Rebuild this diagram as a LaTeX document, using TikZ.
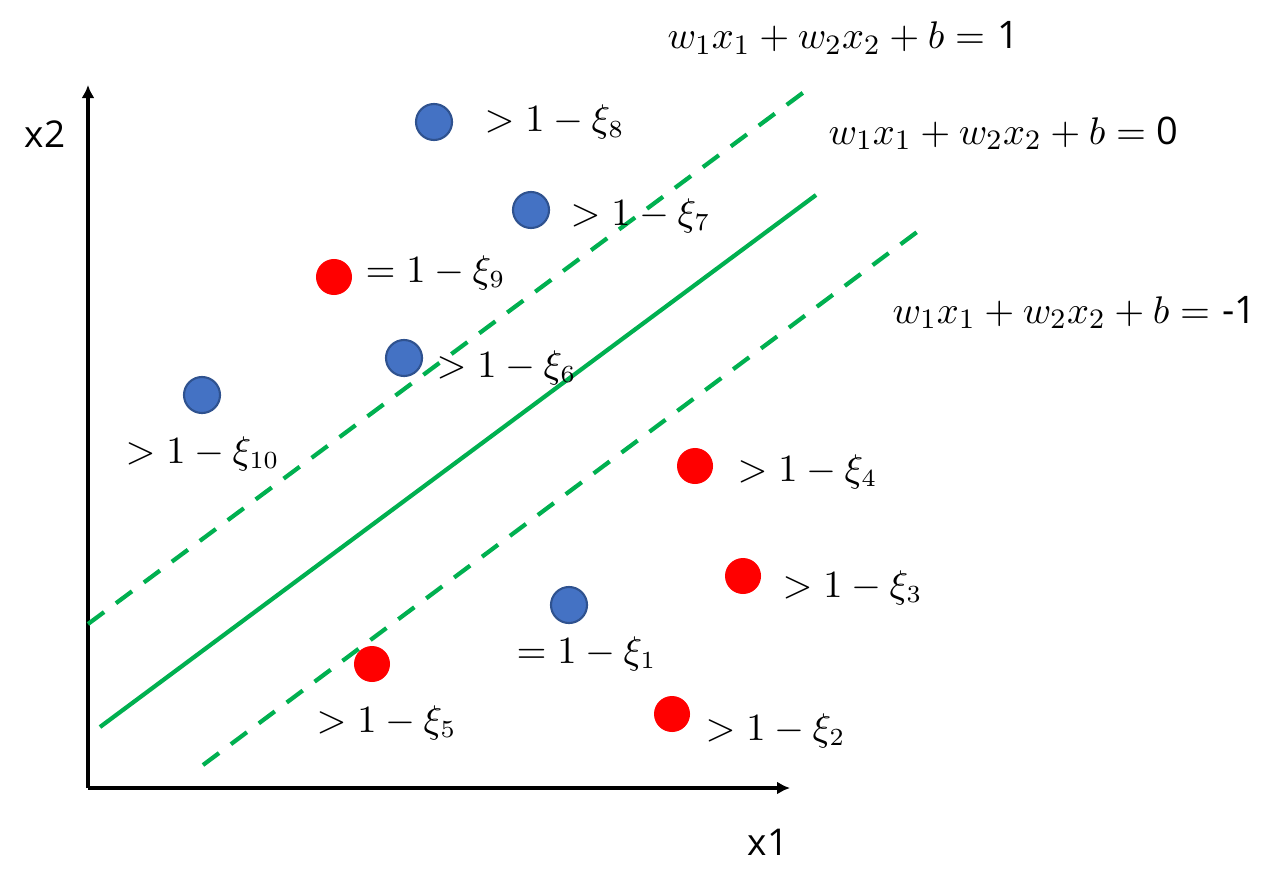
\documentclass[tikz,border=0pt]{standalone}
\usepackage{fontspec}
\setsansfont{Open Sans}
\usetikzlibrary{arrows.meta}
\definecolor{svmgreen}{HTML}{00B050}
\definecolor{dotblue}{HTML}{4472C4}
\definecolor{dotedge}{HTML}{2F528F}

\begin{document}
\begin{tikzpicture}
  [x=0.01cm,y=-0.01cm,
  bluedot/.style={circle,draw=dotedge,fill=dotblue,line width=0.6pt,
inner sep=0pt,minimum size=3.6mm},
  reddot/.style={circle,fill=red,inner sep=0pt,minimum size=3.6mm},
  slack/.style={inner sep=0pt,anchor=base west,font=\fontsize{10.5}{12}\selectfont},
  plane/.style={inner sep=0pt,anchor=base west,font=\fontsize{10.8}{13}\selectfont},
  axlabel/.style={inner sep=0pt,anchor=base west,font=\sffamily\fontsize{10.5}{12}\selectfont},
  axis/.style={line width=0.9pt,-{Latex[length=0.13cm,width=0.13cm]}},
  boundary/.style={svmgreen,line width=1.2pt},
  margin/.style={svmgreen,line width=1.2pt,dash pattern=on 0.2cm off 0.148cm}]
  \useasboundingbox (0,0) rectangle (1286,888);

  % axes
  \coordinate (origin) at (88,788);
  \coordinate (xtip) at (790,788);
  \coordinate (ytip) at (88,85);
  \draw[axis] (origin) -- (xtip);
  \draw[axis] (origin) -- (ytip);
  \node[axlabel] (xlab) at (747,855) {x1};
  \node[axlabel] (ylab) at (24,147) {x2};

  % hyperplanes
  \coordinate (upA) at (88,624);
  \coordinate (upB) at (804,92);
  \coordinate (midA) at (100,727);
  \coordinate (midB) at (816,195);
  \coordinate (lowA) at (203,765);
  \coordinate (lowB) at (917,232);
  \draw[margin] (upA) -- (upB);
  \draw[boundary] (midA) -- (midB);
  \draw[margin] (lowA) -- (lowB);
  \node[plane] (eqplus) at (667,49) {$w_1x_1+w_2x_2+b=$ \textsf{1}};
  \node[plane] (eqzero) at (828,144) {$w_1x_1+w_2x_2+b=\textsf{0}$};
  \node[plane] (eqminus) at (892,323) {$w_1x_1+w_2x_2+b=$ \textsf{-1}};

  % points
  \node[bluedot] (p1) at (569,605) {};
  \node[bluedot] (p6) at (404,358) {};
  \node[bluedot] (p7) at (531,210) {};
  \node[bluedot] (p8) at (434,122) {};
  \node[bluedot] (p10) at (202,395) {};
  \node[reddot] (n2) at (672,714) {};
  \node[reddot] (n3) at (743,576) {};
  \node[reddot] (n4) at (695,466) {};
  \node[reddot] (n5) at (372,664) {};
  \node[reddot] (n9) at (334,277) {};

  % slack labels
  \node[slack] (s1) at (516,663) {$=1-\xi_1$};
  \node[slack] (s2) at (705,740) {$>1-\xi_2$};
  \node[slack] (s3) at (782,597) {$>1-\xi_3$};
  \node[slack] (s4) at (737,481) {$>1-\xi_4$};
  \node[slack] (s5) at (316,732) {$>1-\xi_5$};
  \node[slack] (s6) at (436,377) {$>1-\xi_6$};
  \node[slack] (s7) at (570,225) {$>1-\xi_7$};
  \node[slack] (s8) at (484,132) {$>1-\xi_8$};
  \node[slack] (s9) at (365,282) {$=1-\xi_9$};
  \node[slack] (s10) at (125,463) {$>1-\xi_{10}$};
\end{tikzpicture}
\end{document}
